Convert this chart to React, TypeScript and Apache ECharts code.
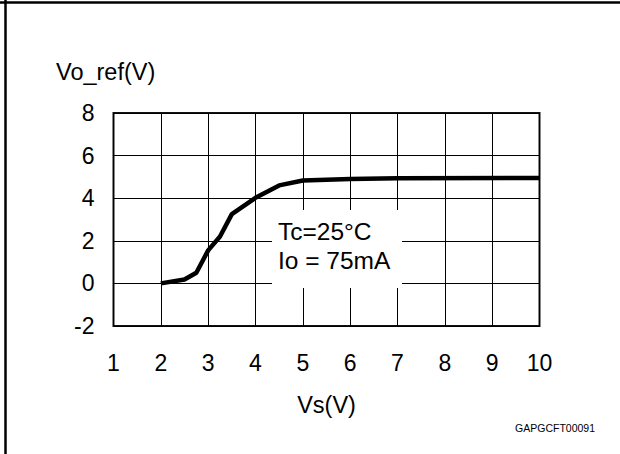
import React, { useEffect, useRef } from "react";
import * as echarts from "echarts";

const vsValues = [2, 2.5, 2.75, 3.0, 3.25, 3.5, 4.0, 4.5, 5.0, 6.0, 7.0, 10.0];
const voRefValues = [0, 0.18, 0.5, 1.55, 2.2, 3.25, 4.02, 4.6, 4.83, 4.9, 4.94, 4.95];
const xTicks = { min: 1, max: 10, interval: 1 };
const yTicks = { min: -2, max: 8, interval: 2 };
const yAxisTitle = "Vo_ref(V)";
const xAxisTitle = "Vs(V)";
const noteLines = ["Tc=25°C", "Io = 75mA"];
const figureId = "GAPGCFT00091";

const FONT = "'Liberation Sans', Arial, sans-serif";

export default function App() {
  const ref = useRef<HTMLDivElement>(null);
  useEffect(() => {
    document.body.style.margin = "0";
    if (!ref.current) return;
    const chart = echarts.init(ref.current, null, { renderer: "svg" });
    const data = vsValues.map((v, i) => [v, voRefValues[i]]);
    chart.setOption({
      animation: false,
      backgroundColor: "#fff",
      grid: {
        left: 113.5,
        right: 80.5,
        top: 113,
        bottom: 128,
        show: true,
        borderColor: "#111",
        borderWidth: 2,
        backgroundColor: "transparent",
      },
      xAxis: {
        type: "value",
        min: xTicks.min,
        max: xTicks.max,
        interval: xTicks.interval,
        axisLine: { show: false },
        axisTick: { show: false },
        splitLine: { show: true, lineStyle: { color: "#000", width: 1 } },
        axisLabel: { color: "#000", fontSize: 23, fontFamily: FONT, margin: 25 },
      },
      yAxis: {
        type: "value",
        min: yTicks.min,
        max: yTicks.max,
        interval: yTicks.interval,
        axisLine: { show: false },
        axisTick: { show: false },
        splitLine: { show: true, lineStyle: { color: "#000", width: 1 } },
        axisLabel: { color: "#000", fontSize: 23, fontFamily: FONT, margin: 19 },
      },
      series: [
        {
          type: "line",
          data,
          symbol: "none",
          lineStyle: { color: "#000", width: 4.5 },
          z: 5,
        },
      ],
      graphic: [
        {
          type: "line",
          z: 100,
          shape: { x1: 0, y1: 2.4, x2: 620, y2: 2.4 },
          style: { stroke: "#000", lineWidth: 2.5 },
        },
        {
          type: "line",
          z: 100,
          shape: { x1: 5.5, y1: 0, x2: 5.5, y2: 454 },
          style: { stroke: "#000", lineWidth: 2.5 },
        },
        {
          type: "text",
          z: 100,
          x: 56,
          y: 72,
          style: {
            text: yAxisTitle,
            fill: "#000",
            font: `23.5px ${FONT}`,
            verticalAlign: "middle",
            align: "left",
          },
        },
        {
          type: "text",
          z: 100,
          x: 326.5,
          y: 405,
          style: {
            text: xAxisTitle,
            fill: "#000",
            font: `23.5px ${FONT}`,
            verticalAlign: "middle",
            align: "center",
          },
        },
        {
          type: "rect",
          z: 100,
          shape: { x: 272, y: 210, width: 130, height: 78 },
          style: { fill: "#fff" },
        },
        {
          type: "text",
          z: 101,
          x: 278,
          y: 231,
          style: {
            text: noteLines[0],
            fill: "#000",
            font: `24.5px ${FONT}`,
            verticalAlign: "middle",
            align: "left",
          },
        },
        {
          type: "text",
          z: 101,
          x: 278,
          y: 260,
          style: {
            text: noteLines[1],
            fill: "#000",
            font: `24.5px ${FONT}`,
            verticalAlign: "middle",
            align: "left",
          },
        },
        {
          type: "text",
          z: 100,
          x: 595,
          y: 428,
          style: {
            text: figureId,
            fill: "#000",
            font: `10.5px ${FONT}`,
            verticalAlign: "middle",
            align: "right",
          },
        },
      ],
    });
    return () => chart.dispose();
  }, []);
  return <div ref={ref} style={{ width: 620, height: 454 }} />;
}
